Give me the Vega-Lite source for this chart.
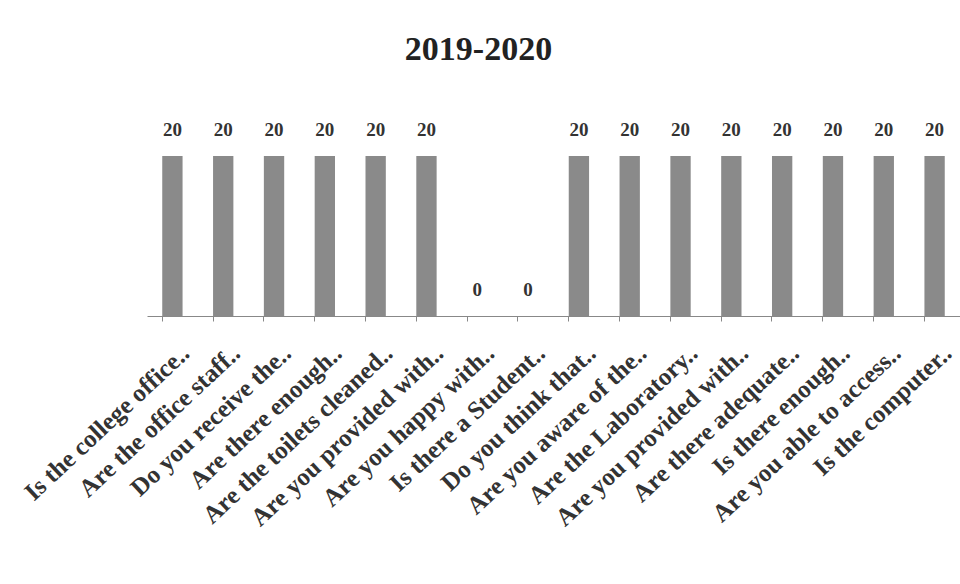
{
  "$schema": "https://vega.github.io/schema/vega-lite/v6.json",
  "width": 813,
  "height": 160,
  "autosize": {"type": "none"},
  "padding": {"left": 147, "top": 156, "right": 0, "bottom": 268},
  "background": "white",
  "title": {
    "text": "2019-2020",
    "font": "Liberation Serif",
    "fontWeight": "bold",
    "fontSize": 34,
    "color": "#222222",
    "anchor": "middle",
    "dx": -75,
    "offset": 54
  },
  "data": {
    "values": [
      {"q": "01|Is the college office..", "count": 20},
      {"q": "02|Are the office staff..", "count": 20},
      {"q": "03|Do you receive the..", "count": 20},
      {"q": "04|Are there enough..", "count": 20},
      {"q": "05|Are the toilets cleaned..", "count": 20},
      {"q": "06|Are you provided with..", "count": 20},
      {"q": "07|Are you happy with..", "count": 0},
      {"q": "08|Is there a Student..", "count": 0},
      {"q": "09|Do you think that..", "count": 20},
      {"q": "10|Are you aware of the..", "count": 20},
      {"q": "11|Are the Laboratory..", "count": 20},
      {"q": "12|Are you provided with..", "count": 20},
      {"q": "13|Are there adequate..", "count": 20},
      {"q": "14|Is there enough..", "count": 20},
      {"q": "15|Are you able to access..", "count": 20},
      {"q": "16|Is the computer..", "count": 20}
    ]
  },
  "config": {"view": {"stroke": null}},
  "encoding": {
    "x": {"field": "q", "type": "nominal", "sort": "ascending",
      "scale": {"paddingInner": 0.6, "paddingOuter": 0.3}},
    "y": {"field": "count", "type": "quantitative", "scale": {"domain": [0, 20]}, "axis": null}
  },
  "layer": [
    {
      "mark": {"type": "bar", "color": "#8a8a8a"},
      "encoding": {
        "x": {"field": "q", "type": "nominal", "sort": "ascending",
          "axis": {
            "orient": "bottom",
            "title": null,
            "labelExpr": "split(datum.value, '|')[1]",
            "labelAngle": -43,
            "labelAlign": "right",
            "labelBaseline": "middle",
            "labelFont": "Liberation Serif",
            "labelFontWeight": "bold",
            "labelFontSize": 25,
            "labelColor": "#333333",
            "labelPadding": 33,
            "labelOffset": 13,
            "labelLimit": 0,
            "labelOverlap": false,
            "ticks": false,
            "domain": false
          }
        }
      }
    },
    {
      "mark": {"type": "text", "baseline": "bottom", "dy": -16, "font": "Liberation Serif", "fontWeight": "bold", "fontSize": 19, "color": "#333333"},
      "encoding": {
        "text": {"field": "count", "type": "quantitative"},
        "x": {"field": "q", "type": "nominal", "sort": "ascending",
          "axis": {
            "orient": "bottom",
            "title": null,
            "labels": false,
            "bandPosition": 0,
            "ticks": true,
            "tickSize": 5,
            "tickColor": "#888888",
            "domain": true,
            "domainColor": "#888888"
          }
        }
      }
    }
  ],
  "resolve": {"axis": {"x": "independent"}}
}
